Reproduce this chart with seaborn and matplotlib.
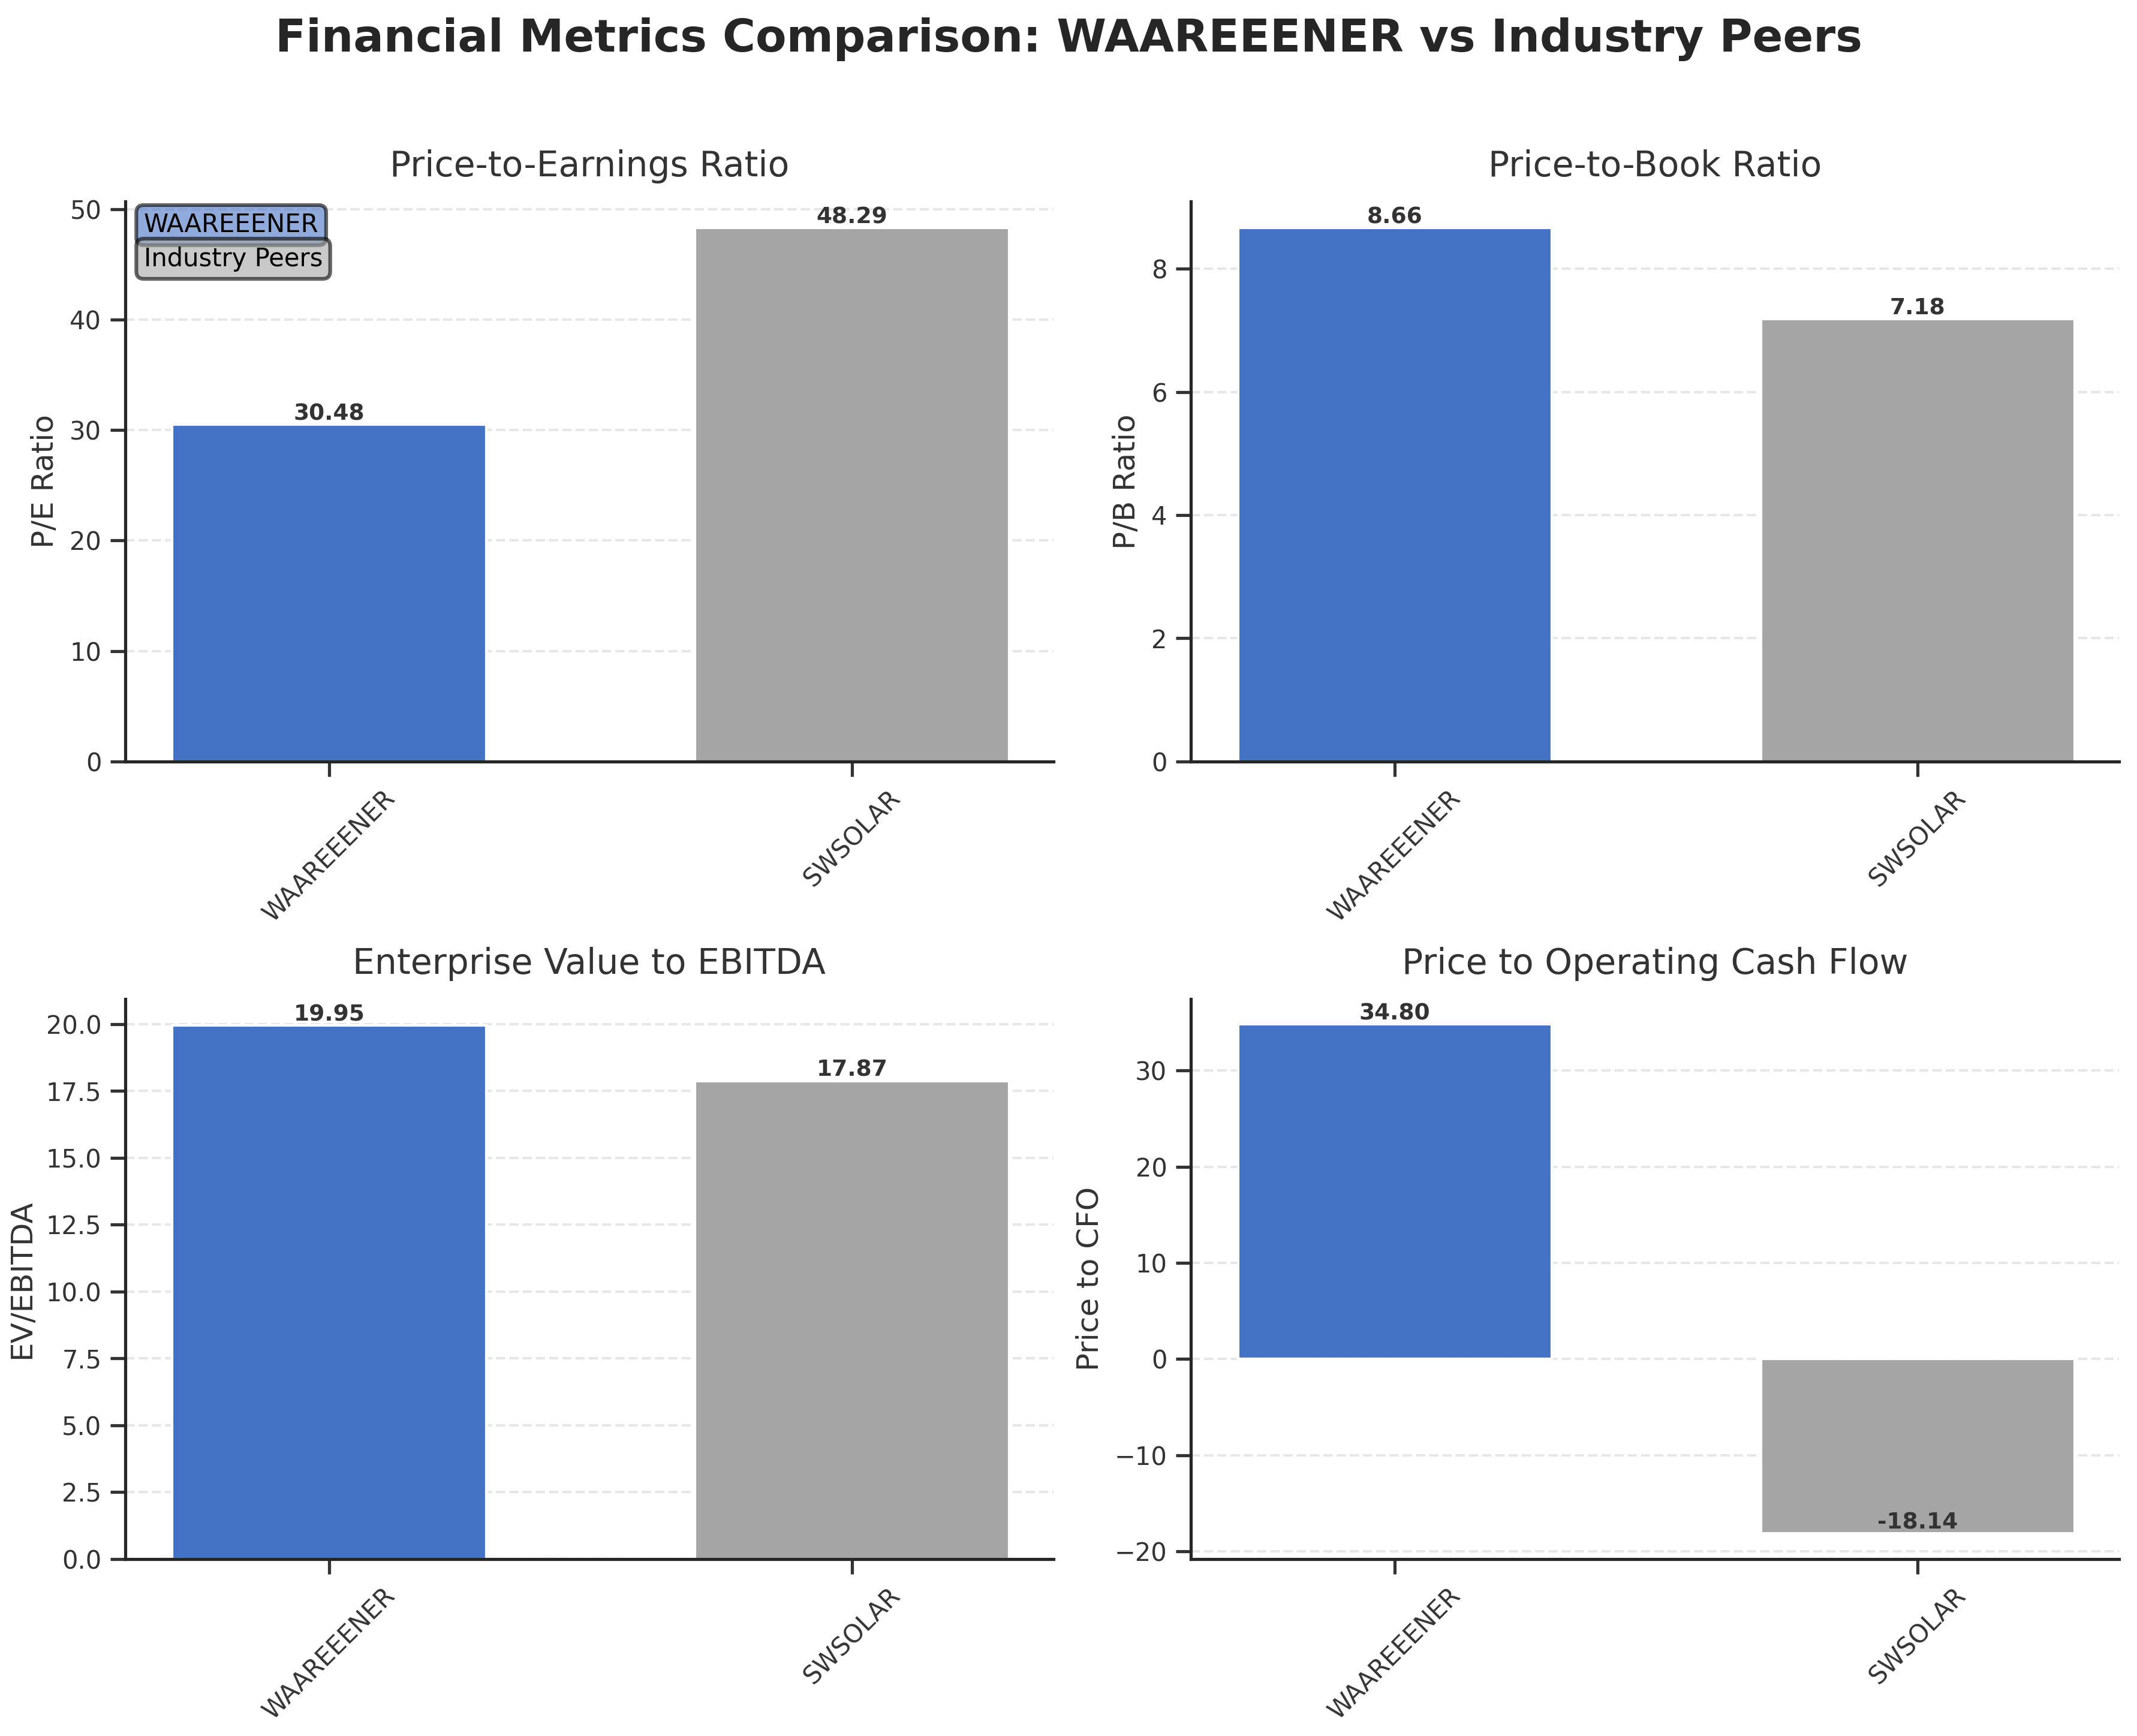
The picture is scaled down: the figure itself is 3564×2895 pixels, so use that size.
import matplotlib
matplotlib.use("Agg")
import matplotlib.pyplot as plt
import seaborn as sns
import pandas as pd

companies = ["WAAREEENER", "SWSOLAR"]
pe_values = [30.48, 48.29]
pb_values = [8.66, 7.18]
ev_ebitda_values = [19.95, 17.87]
p_cfo_values = [34.80, -18.14]

titles = ["Price-to-Earnings Ratio", "Price-to-Book Ratio",
          "Enterprise Value to EBITDA", "Price to Operating Cash Flow"]
ylabels = ["P/E Ratio", "P/B Ratio", "EV/EBITDA", "Price to CFO"]
legend_labels = ["WAAREEENER", "Industry Peers"]

colors = ["#4472C4", "#A5A5A5"]

sns.set_theme(style="ticks")
plt.rcParams["font.family"] = ["DejaVu Sans"]

fig, axes = plt.subplots(2, 2, figsize=(11.88, 9.65), dpi=300)
fig.subplots_adjust(left=0.0586, right=0.9916, top=0.884, bottom=0.102,
                    hspace=0.424, wspace=0.148)

series = [pe_values, pb_values, ev_ebitda_values, p_cfo_values]
for ax, vals, title, ylabel in zip(axes.flat, series, titles, ylabels):
    df = pd.DataFrame({"company": companies, "value": vals})
    sns.barplot(data=df, x="company", y="value", hue="company",
                palette=colors, width=0.6, ax=ax, legend=False,
                saturation=1)
    ax.set_xlim(-0.39, 1.385)
    ax.set_title(title, fontsize=14, pad=10, color="#333333")
    ax.set_ylabel(ylabel, fontsize=12, color="#333333")
    ax.set_xlabel("")
    ax.tick_params(axis="x", rotation=45, labelsize=10, colors="#333333")
    ax.tick_params(axis="y", labelsize=10, colors="#333333")
    ax.yaxis.grid(True, linestyle="--", alpha=0.3, color="#b0b0b0")
    ax.set_axisbelow(True)
    sns.despine(ax=ax)
    for p, v in zip(ax.patches, vals):
        ax.text(p.get_x() + p.get_width() / 2, v, f"{v:.2f}",
                ha="center", va="bottom", fontsize=9, fontweight="bold",
                color="#333333")

ax0 = axes[0, 0]
ax0.text(0.02, 0.98, legend_labels[0], transform=ax0.transAxes, fontsize=10,
         va="top", ha="left", color="black",
         bbox=dict(boxstyle="round", facecolor=colors[0], edgecolor="black",
                   linewidth=1.5, alpha=0.6))
ax0.text(0.02, 0.92, legend_labels[1], transform=ax0.transAxes, fontsize=10,
         va="top", ha="left", color="black",
         bbox=dict(boxstyle="round", facecolor=colors[1], edgecolor="black",
                   linewidth=1.5, alpha=0.6))

fig.suptitle("Financial Metrics Comparison: WAAREEENER vs Industry Peers",
             fontsize=18, fontweight="bold", y=0.99)

fig.savefig("out.png", dpi=300)
